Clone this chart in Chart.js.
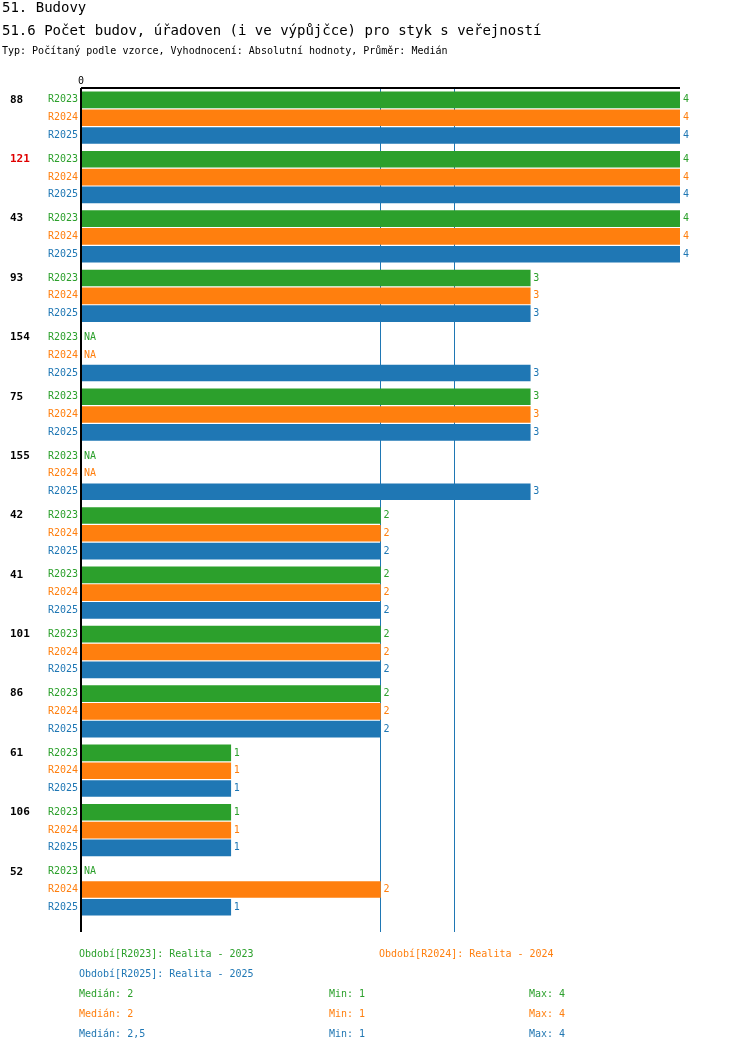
<!DOCTYPE html>
<html>
<head>
<meta charset="utf-8">
<script src="https://cdn.jsdelivr.net/npm/chart.js@4/dist/chart.umd.min.js"></script>
<style>
  body { margin: 0; background: #fff; }
  #wrap { width: 750px; height: 1052px; position: relative; }
</style>
</head>
<body>
<div id="wrap"><canvas id="chart" width="750" height="1052"></canvas></div>
<script>
document.addEventListener('DOMContentLoaded', () => {
    const FONT = '"DejaVu Sans Mono", monospace';
    const periods = ['R2023', 'R2024', 'R2025'];
    const colors = ['#2ca02c', '#ff7f0e', '#1f77b4'];

    // skupiny: id, hodnoty [R2023, R2024, R2025], null = NA
    const groups = [
        { id: '88', v: [4, 4, 4] },
        { id: '121', v: [4, 4, 4], red: true },
        { id: '43', v: [4, 4, 4] },
        { id: '93', v: [3, 3, 3] },
        { id: '154', v: [null, null, 3] },
        { id: '75', v: [3, 3, 3] },
        { id: '155', v: [null, null, 3] },
        { id: '42', v: [2, 2, 2] },
        { id: '41', v: [2, 2, 2] },
        { id: '101', v: [2, 2, 2] },
        { id: '86', v: [2, 2, 2] },
        { id: '61', v: [1, 1, 1] },
        { id: '106', v: [1, 1, 1] },
        { id: '52', v: [null, 2, 1] }
    ];
    const medians = [2, 2.5];

    const pos = (g, r) => g * 60 + r * 18;

    const datasets = periods.map((p, r) => ({
        label: p,
        data: groups.map((g, gi) => ({ x: g.v[r], y: pos(gi, r) })).filter(d => d.x !== null),
        backgroundColor: colors[r],
        barThickness: 16
    }));

    const labelsPlugin = {
        id: 'labels',
        beforeDatasetsDraw(chart) {
            const ctx = chart.ctx;
            const xs = chart.scales.x;
            const top = chart.chartArea.top, bottom = chart.chartArea.bottom;
            ctx.save();
            ctx.strokeStyle = '#1f77b4';
            ctx.lineWidth = 1;
            medians.forEach(m => {
                const x = Math.round(xs.getPixelForValue(m)) - 0.5;
                ctx.beginPath(); ctx.moveTo(x, top - 3); ctx.lineTo(x, bottom); ctx.stroke();
            });
            ctx.restore();
        },
        afterDraw(chart) {
            const ctx = chart.ctx;
            const xs = chart.scales.x, ys = chart.scales.y;
            const top = chart.chartArea.top, bottom = chart.chartArea.bottom;
            ctx.save();
            // osy
            ctx.strokeStyle = '#000';
            ctx.lineWidth = 2;
            ctx.beginPath();
            ctx.moveTo(xs.getPixelForValue(0), top - 3);
            ctx.lineTo(xs.getPixelForValue(0), bottom);
            ctx.moveTo(xs.getPixelForValue(0), top - 3);
            ctx.lineTo(xs.getPixelForValue(4), top - 3);
            ctx.stroke();

            ctx.textBaseline = 'middle';
            ctx.font = '10px ' + FONT;
            ctx.fillStyle = '#000';
            ctx.textAlign = 'center';
            ctx.fillText('0', xs.getPixelForValue(0), top - 10);

            groups.forEach((g, gi) => {
                ctx.font = 'bold 11px ' + FONT;
                ctx.textAlign = 'left';
                ctx.fillStyle = g.red ? '#e00000' : '#000';
                ctx.fillText(g.id, 10, ys.getPixelForValue(pos(gi, 0)));
                periods.forEach((p, r) => {
                    const y = ys.getPixelForValue(pos(gi, r));
                    ctx.font = '10px ' + FONT;
                    ctx.fillStyle = colors[r];
                    ctx.textAlign = 'right';
                    ctx.fillText(p, 78, y);
                    ctx.textAlign = 'left';
                    const v = g.v[r];
                    const x = v === null ? xs.getPixelForValue(0) + 3 : xs.getPixelForValue(v) + 3;
                    ctx.fillText(v === null ? 'NA' : String(v), x, y);
                });
            });

            // titulky
            ctx.fillStyle = '#000';
            ctx.textAlign = 'left';
            ctx.font = '14px ' + FONT;
            ctx.fillText('51. Budovy', 2, 8);
            ctx.fillText('51.6 Počet budov, úřadoven (i ve výpůjčce) pro styk s veřejností', 2, 31);
            ctx.font = '10px ' + FONT;
            ctx.fillText('Typ: Počítaný podle vzorce, Vyhodnocení: Absolutní hodnoty, Průměr: Medián', 2, 51);

            // legenda
            const leg = [
                ['Období[R2023]: Realita - 2023', 79, 954, 0],
                ['Období[R2024]: Realita - 2024', 379, 954, 1],
                ['Období[R2025]: Realita - 2025', 79, 974, 2],
                ['Medián: 2', 79, 994, 0], ['Min: 1', 329, 994, 0], ['Max: 4', 529, 994, 0],
                ['Medián: 2', 79, 1014, 1], ['Min: 1', 329, 1014, 1], ['Max: 4', 529, 1014, 1],
                ['Medián: 2,5', 79, 1034, 2], ['Min: 1', 329, 1034, 2], ['Max: 4', 529, 1034, 2]
            ];
            leg.forEach(l => {
                ctx.fillStyle = colors[l[3]];
                ctx.fillText(l[0], l[1], l[2]);
            });
            ctx.restore();
        }
    };

    new Chart(document.getElementById('chart'), {
        type: 'bar',
        data: { datasets },
        options: {
            indexAxis: 'y',
            responsive: false,
            animation: false,
            layout: { padding: { left: 81, right: 70, top: 91, bottom: 120 } },
            plugins: { legend: { display: false }, tooltip: { enabled: false } },
            scales: {
                x: { type: 'linear', min: 0, max: 4, display: false },
                y: { type: 'linear', min: -9, max: 841, reverse: true, offset: false, display: false }
            },
            datasets: { bar: { grouped: false } }
        },
        plugins: [labelsPlugin]
    });
});
</script>
</body>
</html>
